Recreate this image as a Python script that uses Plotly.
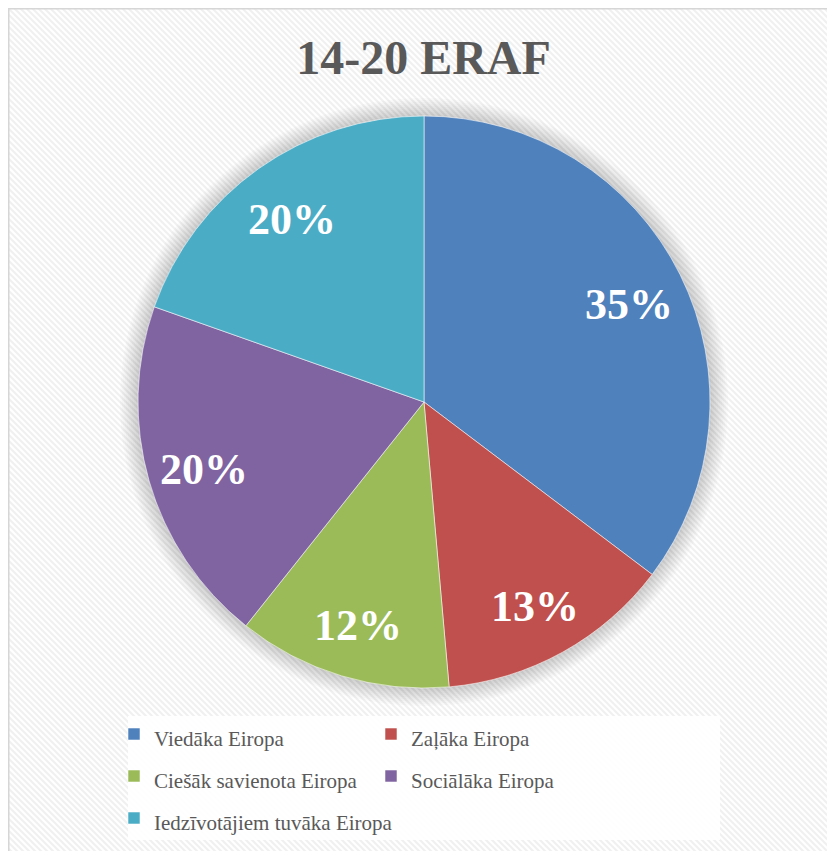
import base64
import math
import plotly.graph_objects as go

# ---- data ----
title_text = "14-20 ERAF"
labels = ["Viedāka Eiropa", "Zaļāka Eiropa", "Ciešāk savienota Eiropa",
          "Sociālāka Eiropa", "Iedzīvotājiem tuvāka Eiropa"]
values = [35.3, 13.3, 12.1, 19.7, 19.6]
colors = ["#4F81BD", "#C0504D", "#9BBB59", "#8064A2", "#4BACC6"]

# ---- layout geometry (figure pixel coords; page body adds an 8px offset) ----
W, H = 835, 851
ML, MR, MT, MB = 0, 100, 0, 0
GW, GH = W - ML - MR, H - MT - MB
CX, CY, R = 416, 394, 286  # pie centre / radius in px


def px_to_paper(x, y):
    return (x - ML) / GW, (H - MB - y) / GH


x0p, y1p = px_to_paper(CX - R, CY - R)
x1p, y0p = px_to_paper(CX + R, CY + R)

fig = go.Figure()

# soft shadow around the pie
for k in range(9, 0, -1):
    rr = R + 2.0 * k
    a, b = px_to_paper(CX - rr, CY - rr)
    c, d = px_to_paper(CX + rr, CY + rr)
    fig.add_trace(go.Pie(
        labels=[f"_s{k}"], values=[1], sort=False,
        marker=dict(colors=["rgba(0,0,0,0.02)"], line=dict(width=0)),
        domain=dict(x=[a, c], y=[d, b]),
        textinfo="none", hoverinfo="skip", showlegend=False,
    ))

fig.add_trace(go.Pie(
    labels=[f"<span style='font-size:21px'>{l}</span>" for l in labels],
    values=values,
    sort=False,
    direction="clockwise",
    rotation=0,
    marker=dict(colors=colors, line=dict(color="rgba(255,255,255,0.55)", width=1)),
    domain=dict(x=[x0p, x1p], y=[y0p, y1p]),
    textinfo="none",
    hovertemplate="%{label}: %{percent}<extra></extra>",
))

# percentage labels placed at each slice's mid-angle
total = sum(values)
annotations = []
cum = 0.0
for v in values:
    mid = (cum + v / 2) / total * 2 * math.pi
    cum += v
    lx = CX + 0.8 * R * math.sin(mid)
    ly = CY - 0.8 * R * math.cos(mid) + 4
    px, py = px_to_paper(lx, ly)
    annotations.append(dict(
        x=px, y=py, xref="paper", yref="paper",
        text=f"{round(v / total * 100)}%", showarrow=False,
        xanchor="center", yanchor="middle",
        font=dict(family="Liberation Serif, Times New Roman, serif",
                  size=44, color="white", weight="bold"),
    ))

# background: hatched chart area with light frame
svg = (
    f'<svg xmlns="http://www.w3.org/2000/svg" width="{W}" height="{H}">'
    '<defs><pattern id="p" width="6" height="6" patternUnits="userSpaceOnUse">'
    '<rect width="6" height="6" fill="#ffffff"/>'
    '<path d="M-1,-1 L7,7 M-1,5 L1,7 M5,-1 L7,1" stroke="#f0f0f0" stroke-width="2"/>'
    '</pattern></defs>'
    f'<rect width="{W}" height="{H}" fill="url(#p)"/>'
    f'<rect x="0" y="0" width="{W + 10}" height="{H + 10}" fill="none" '
    'stroke="#d6d6d6" stroke-width="3"/>'
    '</svg>'
)
src = "data:image/svg+xml;base64," + base64.b64encode(svg.encode()).decode()

lb_x0, lb_y1 = px_to_paper(120, 708)
lb_x1, lb_y0 = px_to_paper(712, 832)
leg_x, leg_y = px_to_paper(106, 700)

fig.update_layout(
    width=W, height=H,
    margin=dict(l=ML, r=MR, t=MT, b=MB),
    paper_bgcolor="white",
    plot_bgcolor="rgba(0,0,0,0)",
    title=dict(
        text=title_text, x=415.5 / W, y=1 - 49 / H,
        xref="container", yref="container",
        xanchor="center", yanchor="middle",
        font=dict(family="Liberation Serif, Times New Roman, serif",
                  size=48, color="#595959", weight="bold"),
    ),
    images=[dict(source=src, xref="paper", yref="paper", x=-ML / GW, y=1 + MT / GH,
                 sizex=W / GW, sizey=H / GH, xanchor="left", yanchor="top",
                 sizing="stretch", layer="below")],
    shapes=[dict(type="rect", xref="paper", yref="paper",
                 x0=lb_x0, x1=lb_x1, y0=lb_y0, y1=lb_y1,
                 fillcolor="rgba(255,255,255,0.9)", line=dict(width=0),
                 layer="below")],
    legend=dict(
        orientation="h", x=leg_x, y=leg_y, xanchor="left", yanchor="top",
        entrywidth=212, entrywidthmode="pixels",
        bgcolor="rgba(0,0,0,0)", borderwidth=0,
        font=dict(family="Liberation Serif, Times New Roman, serif",
                  size=30, color="#595959"),
        traceorder="normal",
    ),
    annotations=annotations,
    showlegend=True,
)

fig.write_html("out.html")
